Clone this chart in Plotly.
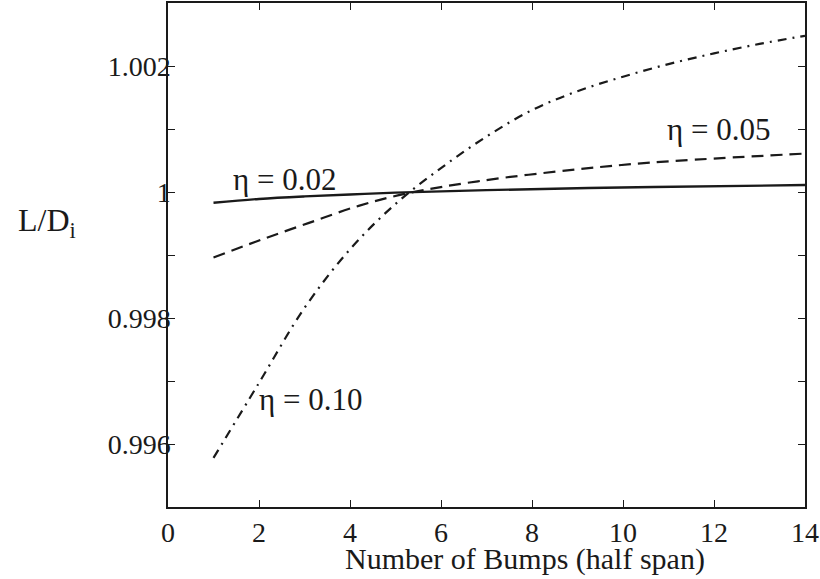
import plotly.graph_objects as go

# Data
x02 = [1, 2, 3, 4, 5, 7, 10.68, 14]
y02 = [0.99983, 0.99989, 0.99993, 0.99996, 0.99999, 1.00003, 1.00008, 1.00011]

x05 = [1, 2.0, 3.1, 4.19, 5.2, 6.81, 9.0, 10.68, 14]
y05 = [0.99896, 0.99923, 0.99951, 0.99978, 0.99997, 1.00017, 1.00036, 1.00047, 1.00061]

x10 = [1, 2, 3, 4, 5, 6, 7, 8, 9, 10, 11, 12, 13, 14]
y10 = [0.99578, 0.99697, 0.99816, 0.99909, 0.99981, 1.00038, 1.00088, 1.0013, 1.0016, 1.00183, 1.00203, 1.0022, 1.00235, 1.00248]

xticks = [0, 2, 4, 6, 8, 10, 12, 14]
yticks = [0.996, 0.998, 1.0, 1.002]
yticktext = ["0.996", "0.998", "1", "1.002"]

labels = ["η = 0.02", "η = 0.05", "η = 0.10"]
xtitle = "Number of Bumps (half span)"
ytitle = "L/D<sub>i</sub>"

FONT = '"Liberation Serif", "Times New Roman", Times, serif'
INK = "#1a1a1a"
FS = 28
LFS = 31

fig = go.Figure()
fig.add_trace(go.Scatter(x=x02, y=y02, mode="lines", line=dict(color=INK, width=2.4, shape="spline", smoothing=1), name=labels[0]))
fig.add_trace(go.Scatter(x=x05, y=y05, mode="lines", line=dict(color=INK, width=2.2, dash="12px,7px", shape="spline", smoothing=1), name=labels[1]))
fig.add_trace(go.Scatter(x=x10, y=y10, mode="lines", line=dict(color=INK, width=2.2, dash="9px,6px,2px,6px", shape="spline", smoothing=1), name=labels[2]))

fig.add_annotation(x=2.55, y=1.000205, text=labels[0], showarrow=False, font=dict(family=FONT, size=LFS, color=INK))
fig.add_annotation(x=12.1, y=1.00099, text=labels[1], showarrow=False, font=dict(family=FONT, size=LFS, color=INK))
fig.add_annotation(x=3.14, y=0.99671, text=labels[2], showarrow=False, font=dict(family=FONT, size=LFS, color=INK))

fig.add_annotation(xref="paper", yref="paper", x=-0.239, y=0.565, text=ytitle, showarrow=False,
                   xanchor="left", yanchor="middle", font=dict(family=FONT, size=32, color=INK))
fig.add_annotation(xref="paper", yref="paper", x=0.56, y=-0.104, text=xtitle, showarrow=False,
                   xanchor="center", yanchor="middle", font=dict(family=FONT, size=30, color=INK))

fig.update_layout(
    width=820, height=579,
    margin=dict(l=168, r=11, t=1, b=72),
    paper_bgcolor="white", plot_bgcolor="white",
    showlegend=False,
    font=dict(family=FONT, size=FS, color=INK),
)
fig.update_xaxes(range=[0, 14], tickvals=xticks, ticks="inside", ticklen=7, tickcolor=INK,
                 showline=True, linecolor=INK, linewidth=1.5, mirror="ticks", showgrid=False, zeroline=False,
                 ticklabeloverflow="allow",
                 tickfont=dict(family=FONT, size=FS))
fig.update_yaxes(range=[0.995, 1.003], tickvals=yticks, ticktext=yticktext, ticks="inside", ticklen=7, tickcolor=INK,
                 minor=dict(dtick=0.001, tick0=0.995, ticks="inside", ticklen=7, tickcolor=INK),
                 showline=True, linecolor=INK, linewidth=1.5, mirror="ticks", showgrid=False, zeroline=False,
                 ticklabelstandoff=-10, ticklabeloverflow="allow",
                 tickfont=dict(family=FONT, size=FS))

fig.write_html("out.html")
